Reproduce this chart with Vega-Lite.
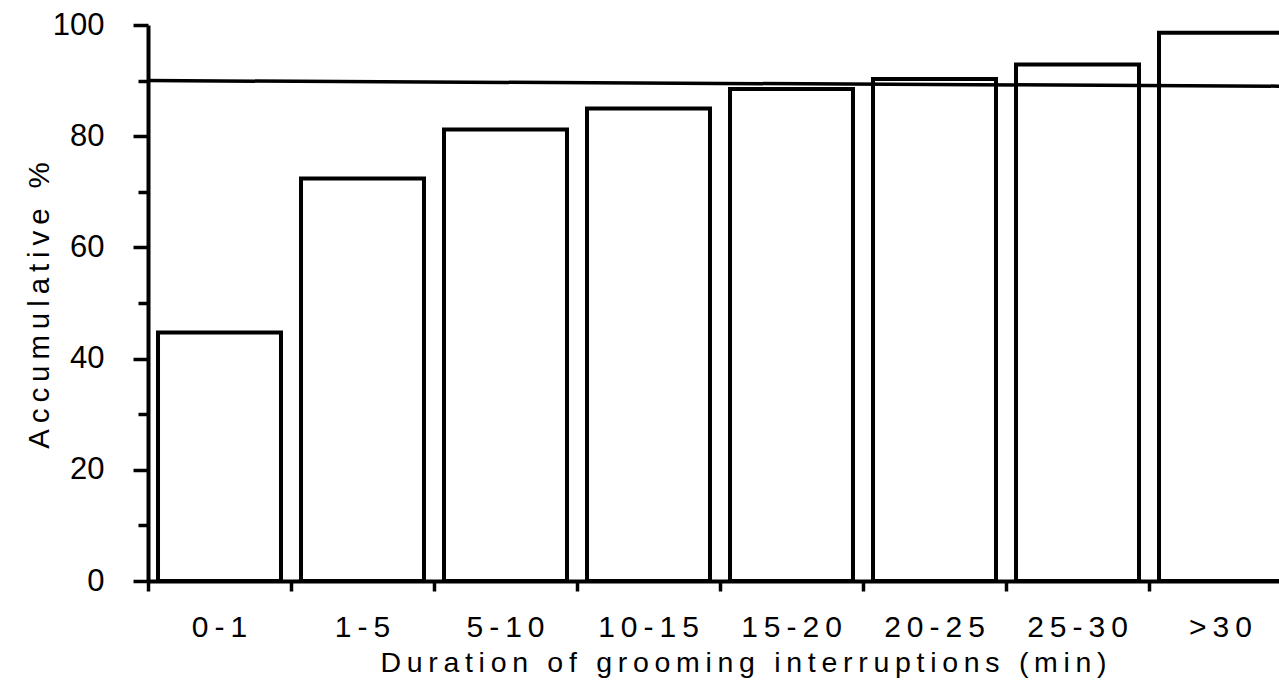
{
  "$schema": "https://vega.github.io/schema/vega-lite/v6.json",
  "autosize": {"type": "none"},
  "width": 1131,
  "height": 556,
  "padding": {"left": 148, "top": 25, "right": 0, "bottom": 106},
  "background": "white",
  "config": {
    "view": {"stroke": null},
    "font": "Liberation Sans",
    "axis": {
      "domainColor": "black",
      "domainWidth": 4,
      "tickColor": "black",
      "tickWidth": 3.5,
      "labelColor": "black",
      "titleColor": "black",
      "titleFontWeight": "normal",
      "grid": false
    }
  },
  "layer": [
    {
      "data": {
        "values": [
          {"duration": "0-1", "pct": 44.7},
          {"duration": "1-5", "pct": 72.4},
          {"duration": "5-10", "pct": 81.2},
          {"duration": "10-15", "pct": 85.0},
          {"duration": "15-20", "pct": 88.5},
          {"duration": "20-25", "pct": 90.3},
          {"duration": "25-30", "pct": 92.9},
          {"duration": ">30", "pct": 98.6}
        ]
      },
      "mark": {"type": "bar", "fill": "white", "stroke": "black", "strokeWidth": 4, "width": {"band": 0.86}},
      "encoding": {
        "x": {
          "field": "duration",
          "type": "nominal",
          "sort": null,
          "scale": {"range": [0, 1144], "paddingInner": 0, "paddingOuter": 0},
          "axis": {
            "bandPosition": 0,
            "labelOffset": 0,
            "labelAngle": 0,
            "tickSize": 10,
            "labelPadding": 45.5,
            "labelBaseline": "alphabetic",
            "labelFontSize": 30,
            "labelExpr": "join(split(datum.label, ''), '\u2009')",
            "title": "D\u2009u\u2009r\u2009a\u2009t\u2009i\u2009o\u2009n\u2009 \u2009o\u2009f\u2009 \u2009g\u2009r\u2009o\u2009o\u2009m\u2009i\u2009n\u2009g\u2009 \u2009i\u2009n\u2009t\u2009e\u2009r\u2009r\u2009u\u2009p\u2009t\u2009i\u2009o\u2009n\u2009s\u2009 \u2009(\u2009m\u2009i\u2009n\u2009)",
            "titleFontSize": 28.5,
            "titleX": 595,
            "titleY": 90.5,
            "titleBaseline": "alphabetic"
          }
        },
        "y": {
          "field": "pct",
          "type": "quantitative",
          "scale": {"domain": [0, 100], "nice": false},
          "axis": {
            "values": [0, 10, 20, 30, 40, 50, 60, 70, 80, 90, 100],
            "labelExpr": "datum.value % 20 === 0 ? datum.label : ''",
            "tickSize": {"condition": {"test": "datum.value % 20 === 0", "value": 15}, "value": 10},
            "labelPadding": 29,
            "labelFontSize": 31,
            "title": "A\u2009c\u2009c\u2009u\u2009m\u2009u\u2009l\u2009a\u2009t\u2009i\u2009v\u2009e\u2009 \u2009%",
            "titleFontSize": 29.5,
            "titleX": -100,
            "titleY": 280,
            "titleBaseline": "alphabetic"
          }
        }
      }
    },
    {
      "data": {"values": [{"pos": 0, "pct": 90}, {"pos": 1, "pct": 89}]},
      "mark": {"type": "line", "stroke": "black", "strokeWidth": 3.5},
      "encoding": {
        "x": {"field": "pos", "type": "quantitative", "scale": {"domain": [0, 1], "nice": false}, "axis": null},
        "y": {"field": "pct", "type": "quantitative"}
      }
    }
  ],
  "resolve": {"scale": {"x": "independent"}}
}
